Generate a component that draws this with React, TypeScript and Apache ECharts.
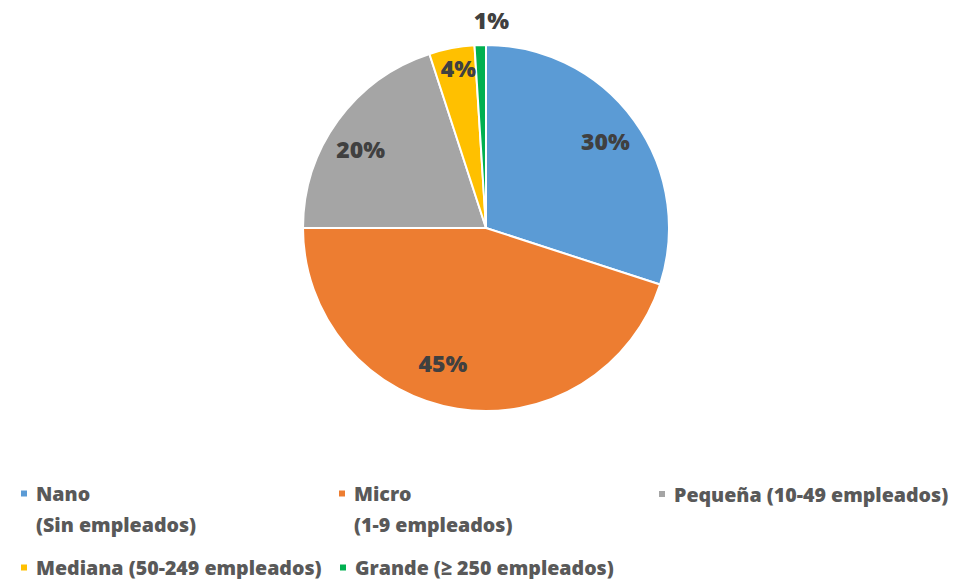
import React, { useEffect, useRef } from "react";
import * as echarts from "echarts";

const categories = ["Nano", "Micro", "Pequeña", "Mediana", "Grande"];
const legendLabels = [
  "Nano\n(Sin empleados)",
  "Micro\n(1-9 empleados)",
  "Pequeña (10-49 empleados)",
  "Mediana (50-249 empleados)",
  "Grande (≥ 250 empleados)",
];
const values = [30, 45, 20, 4, 1];
const colors = ["#5B9BD5", "#ED7D31", "#A5A5A5", "#FFC000", "#00B050"];
// label nudges (Excel best-fit placement)
const labelOffsets: number[][] = [
  [0, 0],
  [-20, -11],
  [-6, 8],
  [0, -15],
  [10, -61],
];

const FONT = "'Open Sans', 'Noto Sans', sans-serif";

export default function App() {
  const ref = useRef<HTMLDivElement>(null);
  useEffect(() => {
    if (!ref.current) return;
    const chart = echarts.init(ref.current, undefined, { renderer: "svg" });
    const center = [486, 228];
    const R = 183;
    const nameMap: Record<string, string> = {};
    categories.forEach((c, i) => {
      const t = legendLabels[i];
      // keep the marker level with the first line of two-line entries
      nameMap[c] = t.indexOf("\n") >= 0 ? "\n" + t : t;
    });

    const legendBase = {
      orient: "horizontal",
      padding: 0,
      itemWidth: 8,
      itemHeight: 8,
      icon: "rect",
      selectedMode: false,
      formatter: (n: string) => nameMap[n],
    };
    const textStyle = {
      color: "#595959",
      fontSize: 19.6,
      fontWeight: 800,
      fontFamily: FONT,
      lineHeight: 31,
      padding: [0, 0, 0, 3],
    };

    chart.setOption({
      animation: false,
      color: colors,
      legend: [
        { ...legendBase, data: ["Nano"], left: 19, top: 447, textStyle },
        { ...legendBase, data: ["Micro"], left: 337, top: 447, textStyle },
        { ...legendBase, data: ["Pequeña"], left: 657, top: 478.5, textStyle },
        { ...legendBase, data: ["Mediana"], left: 19, top: 552, textStyle },
        { ...legendBase, data: ["Grande"], left: 338, top: 552, textStyle },
      ],
      series: [
        {
          type: "pie",
          center,
          radius: R,
          startAngle: 90,
          clockwise: true,
          avoidLabelOverlap: false,
          label: { show: false },
          labelLine: { show: false },
          itemStyle: { borderColor: "#ffffff", borderWidth: 2 },
          emphasis: { disabled: true },
          data: categories.map((c, i) => ({
            name: c,
            value: values[i],
            itemStyle: { color: colors[i] },
          })),
        },
        {
          type: "pie",
          center,
          radius: [106, R],
          startAngle: 90,
          clockwise: true,
          silent: true,
          avoidLabelOverlap: false,
          legendHoverLink: false,
          itemStyle: { color: "rgba(0,0,0,0)", borderWidth: 0 },
          emphasis: { disabled: true },
          labelLine: { show: false },
          label: {
            show: true,
            position: "inside",
            formatter: "{d}%",
            color: "#404040",
            fontSize: 23,
            fontWeight: 800,
            fontFamily: FONT,
          },
          data: categories.map((c, i) => ({
            name: c,
            value: values[i],
            label: { offset: labelOffsets[i] },
          })),
        },
      ],
    });
    return () => chart.dispose();
  }, []);
  return (
    <div
      ref={ref}
      style={{ position: "absolute", left: 0, top: 0, width: 955, height: 579 }}
    />
  );
}
